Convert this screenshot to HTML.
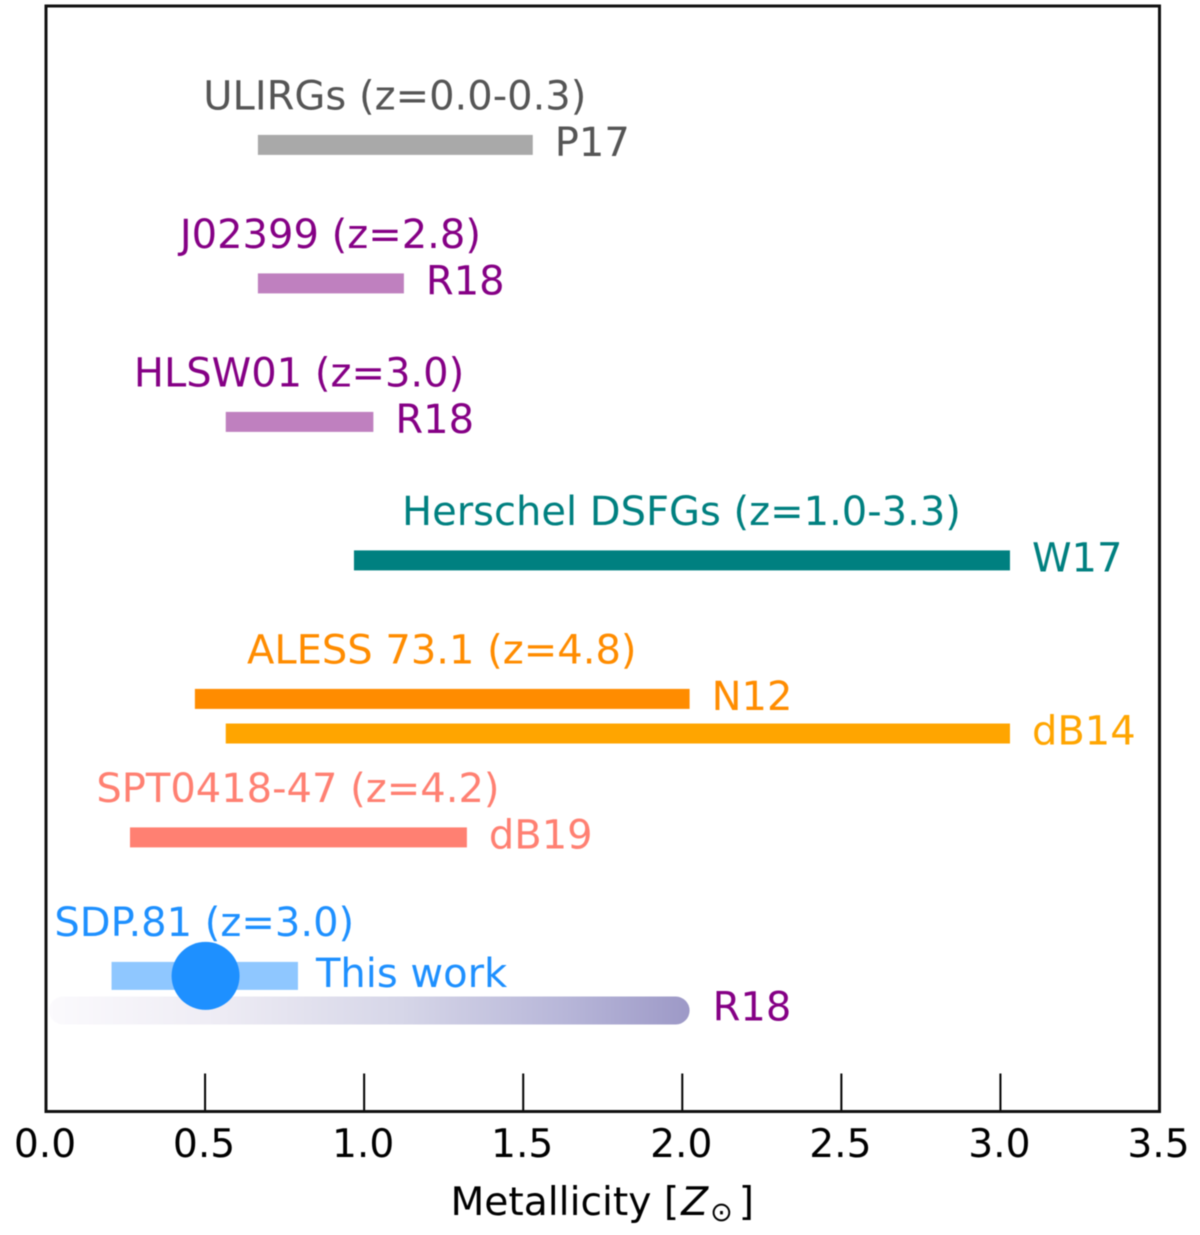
<!DOCTYPE html>
<html lang="en">
<head>
<meta charset="utf-8">
<title>Metallicity ranges</title>
<style>
  html, body { margin: 0; padding: 0; background: #fff; }
  svg { display: block; filter: blur(0.5px); }
  text { font-family: "DejaVu Sans", "Liberation Sans", sans-serif; }
</style>
</head>
<body>
<svg id="chart" width="1200" height="1235" viewBox="0 0 1200 1235" xmlns="http://www.w3.org/2000/svg">
  <defs>
    <linearGradient id="r18-gradient" x1="0" x2="1" y1="0" y2="0">
      <stop offset="0" stop-color="#fbfafd"/>
      <stop offset="0.25" stop-color="#efedf5"/>
      <stop offset="0.55" stop-color="#d6d6e8"/>
      <stop offset="0.8" stop-color="#b8b7d9"/>
      <stop offset="1" stop-color="#9d99c7"/>
    </linearGradient>
  </defs>
</svg>
<script>
const titles = ["ULIRGs (z=0.0-0.3)", "J02399 (z=2.8)", "HLSW01 (z=3.0)", "Herschel DSFGs (z=1.0-3.3)", "ALESS 73.1 (z=4.8)", "", "SPT0418-47 (z=4.2)", "SDP.81 (z=3.0)"];
const refs = ["P17", "R18", "R18", "W17", "N12", "dB14", "dB19", "This work"];
const lows = [0.666, 0.666, 0.565, 0.968, 0.468, 0.565, 0.264, 0.206];
const highs = [1.53, 1.125, 1.029, 3.03, 2.023, 3.03, 1.323, 0.792];
const rows = [7, 6, 5, 4, 3, 2.75, 2, 1];
const barColors = ["#a9a9a9", "#bf80bf", "#bf80bf", "#008080", "#ff8c00", "#ffa500", "#ff8072", "#8fc7ff"];
const textColors = ["#555555", "#850085", "#850085", "#008080", "#ff8c00", "#ffa500", "#ff8072", "#1e90ff"];
const thisWorkValue = 0.5;
const thisWorkRow = 1;
const gradientRange = [0, 2.023];
const gradientRow = 0.75;
const gradientRef = "R18";
const xTicks = [0, 0.5, 1, 1.5, 2, 2.5, 3, 3.5];
const xTickLabels = ["0.0", "0.5", "1.0", "1.5", "2.0", "2.5", "3.0", "3.5"];

const svg = document.getElementById('chart');
const NS = 'http://www.w3.org/2000/svg';
const plot = { left: 46, right: 1159.5, top: 6, bottom: 1111.5 };
const FONT = 40;
const TICK_FONT = 39.2;
const xScale = v => plot.left + v * (plot.right - plot.left) / 3.5;
const yScale = v => 1114.4 - 138.5 * v;

function make(tag, attrs, parent) {
  const el = document.createElementNS(NS, tag);
  for (const k in attrs) el.setAttribute(k, attrs[k]);
  (parent || svg).appendChild(el);
  return el;
}

// gradient band
const band = make('rect', {
  x: xScale(gradientRange[0]) + 3, y: yScale(gradientRow) - 14,
  width: xScale(gradientRange[1]) - xScale(gradientRange[0]) - 3, height: 28, rx: 14,
  fill: 'url(#r18-gradient)'
});


const bandLabel = make('text', {
  x: xScale(gradientRange[1]) + 23, y: yScale(gradientRow) + 10,
  'font-size': FONT, fill: '#850085'
});
bandLabel.textContent = gradientRef;



// range bars and labels
refs.forEach((ref, i) => {
  const x0 = xScale(lows[i]), x1 = xScale(highs[i]), yc = yScale(rows[i]);
  const h = i === 7 ? 28 : 20;
  const bar = make('rect', { x: x0, y: yc - h / 2, width: x1 - x0, height: h, fill: barColors[i] });
  
  
  const end = make('text', {
    x: x1 + (i === 7 ? 18 : 22), y: yc + 11, 'font-size': FONT, fill: textColors[i]
  });
  end.textContent = ref;
  
  
  if (titles[i]) {
    const t = make('text', {
      x: (x0 + x1) / 2 - 0.5, y: yc - (i === 7 ? 40 : 35.5), 'font-size': FONT,
      fill: textColors[i], 'text-anchor': 'middle'
    });
    t.textContent = titles[i];
    
    
  }
});

// this-work point
const dot = make('circle', { cx: xScale(thisWorkValue) + 0.5, cy: yScale(thisWorkRow), r: 34, fill: '#1e90ff' });



// ticks and tick labels
xTicks.forEach((v, i) => {
  const tick = make('line', {
    x1: xScale(v), x2: xScale(v), y1: plot.bottom - 38, y2: plot.bottom,
    stroke: '#000', 'stroke-width': 2
  });
  
  
  const lab = make('text', {
    x: xScale(v) - 1, y: 1157, 'font-size': TICK_FONT, fill: '#000', 'text-anchor': 'middle'
  });
  lab.textContent = xTickLabels[i];
  
  
});

// frame
const frame = make('rect', {
  x: plot.left, y: plot.top, width: plot.right - plot.left, height: plot.bottom - plot.top,
  fill: 'none', stroke: '#111', 'stroke-width': 3
});



// x axis title
const title = make('text', { x: 450.5, y: 1215, 'font-size': TICK_FONT, fill: '#000' });


const t1 = make('tspan', {}, title); t1.textContent = 'Metallicity [';
const t2 = make('tspan', { 'font-style': 'italic', dx: 2 }, title); t2.textContent = 'Z';
const t3 = make('tspan', { 'font-size': 27, dy: 6, dx: 2 }, title); t3.textContent = '\u2299';
const t4 = make('tspan', { dy: -6, dx: 6 }, title); t4.textContent = ']';
</script>
</body>
</html>
